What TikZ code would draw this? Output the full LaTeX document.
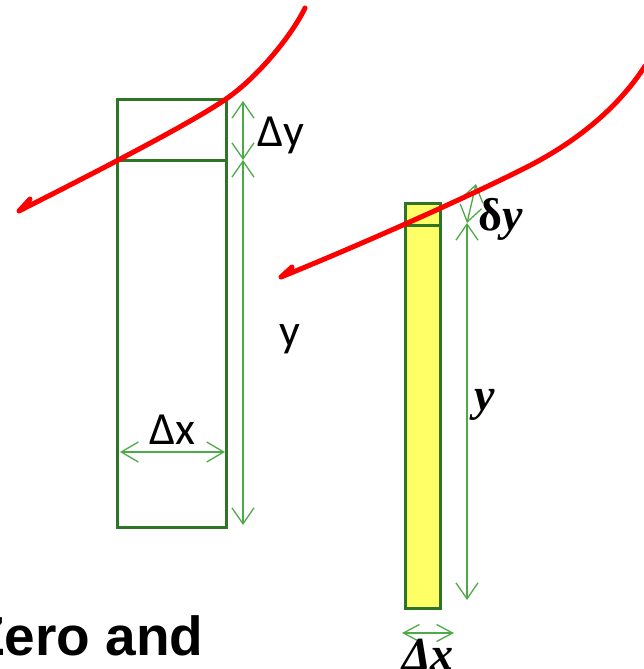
\documentclass[tikz,border=0pt]{standalone}
\usepackage{fontspec}
\setmainfont{Carlito}
\newfontfamily\arialf{Liberation Sans}
\newfontfamily\serf{Liberation Serif}
\usetikzlibrary{arrows.meta}
\definecolor{boxgreen}{RGB}{46,117,40}
\definecolor{arrgreen}{RGB}{78,170,72}
\definecolor{baryellow}{RGB}{255,255,102}
\definecolor{curvered}{RGB}{255,0,0}
\tikzset{
  boxline/.style={draw=boxgreen,line width=3pt},
  dimarrow/.style={draw=arrgreen,line width=1.3pt,{Straight Barb[length=16pt,width=22pt]}-{Straight Barb[length=16pt,width=22pt]}},
  redcurve/.style={draw=curvered,line width=5pt,line cap=round,line join=round},
  lbl/.style={inner sep=0pt,font=\fontsize{46}{46}\selectfont},
  mlbl/.style={inner sep=0pt,font=\fontsize{46}{46}\selectfont\serf\bfseries}
}
\begin{document}
\begin{tikzpicture}[x=1pt,y=-1pt]
\useasboundingbox (0,0) rectangle (644,669);
\clip (0,0) rectangle (644,669);
% left column
\draw[boxline] (117,99) rectangle (226,527);
\draw[boxline] (117,160) -- (226,160);
\coordinate (ltop) at (243,101);
\coordinate (lmid) at (243,160);
\coordinate (lbot) at (243,525);
\draw[dimarrow] (ltop) -- (lmid);
\draw[dimarrow] (lmid) -- (lbot);
\coordinate (dxl) at (120,452);
\coordinate (dxr) at (225,452);
\draw[dimarrow,{Straight Barb[length=17pt,width=20pt]}-{Straight Barb[length=17pt,width=20pt]}] (dxl) -- (dxr);
\node[lbl] (ldy) at (281,135) {Δy};
\node[lbl] (ly) at (290,339) {y};
\node[lbl] (ldx) at (172,430) {Δx};
% right column
\draw[boxline,fill=baryellow] (405,203) rectangle (440,608);
\draw[boxline] (405,225) -- (440,225);
\coordinate (rtop) at (476,184);
\coordinate (rmid) at (467,223);
\coordinate (rbot) at (467,600);
\draw[dimarrow] (rtop) -- (rmid);
\draw[dimarrow] (rmid) -- (rbot);
\coordinate (bxl) at (402,633);
\coordinate (bxr) at (454,633);
\draw[dimarrow,{Straight Barb[length=16pt,width=17pt]}-{Straight Barb[length=16pt,width=17pt]}] (bxl) -- (bxr);
\node[mlbl] (rdy) at (501,219) {δ\textit{y}};
\node[mlbl] (ry) at (485,405) {\textit{y}};
\node[mlbl,anchor=base] (rdx) at (428,669) {\textit{Δx}};
% red curves
\draw[redcurve] (305,8) .. controls (292,35) and (258,77) .. (226,99)
  .. controls (190,124) and (90,175) .. (19,211) -- (30,199);
\draw[redcurve] (645,66) .. controls (620,105) and (580,140) .. (527,167)
  .. controls (470,196) and (360,245) .. (281,277) -- (292,267);
% title fragment
\node[inner sep=0pt,anchor=base west,font=\arialf\bfseries\fontsize{55}{55}\selectfont] (title) at (-29,655) {Zero and};
\end{tikzpicture}
\end{document}
